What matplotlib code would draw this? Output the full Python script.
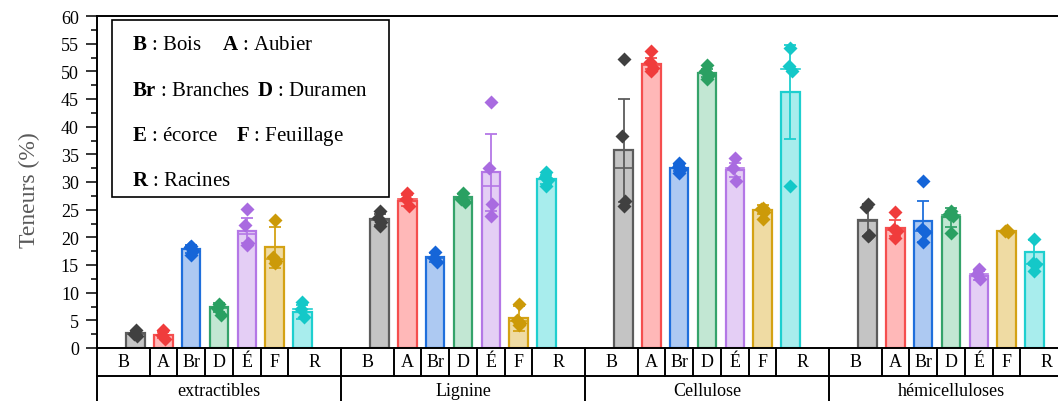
import matplotlib
matplotlib.use('Agg')
import matplotlib.pyplot as plt
import numpy as np
from matplotlib.patches import Rectangle
from matplotlib.ticker import MultipleLocator

plt.rcParams['font.family'] = 'Liberation Serif'
plt.rcParams['mathtext.fontset'] = 'custom'
plt.rcParams['mathtext.rm'] = 'Liberation Serif'
plt.rcParams['mathtext.bf'] = 'Liberation Serif:bold'

groups = ['extractibles', 'Lignine', 'Cellulose', 'hémicelluloses']
parts = ['B', 'A', 'Br', 'D', 'É', 'F', 'R']

# mean, standard deviation and individual measurements (%)
extractibles_mean = [2.65, 2.35, 17.9, 7.35, 21.2, 18.2, 6.5]
extractibles_sd = [0.4, 0.5, 0.7, 0.8, 2.3, 3.7, 1.2]
extractibles_pts = [[3.3, 2.6, 2.2], [3.2, 2.3, 1.7], [18.4, 18.2, 17.5, 16.8],
                    [7.9, 7.3, 6.0], [25.1, 22.2, 19.0, 18.7],
                    [23.1, 16.4, 15.8, 15.3], [8.3, 7.0, 5.6]]

lignine_mean = [23.3, 26.6, 16.4, 27.2, 31.75, 5.35, 30.5]
lignine_sd = [1.0, 1.0, 0.8, 0.7, 7.0, 2.3, 0.8]
lignine_pts = [[24.8, 23.5, 22.8, 22.1], [28.1, 27.0, 25.6], [17.3, 16.2, 15.6],
               [28.1, 27.0, 26.4], [44.5, 32.6, 26.0, 23.9],
               [7.9, 5.0, 4.6, 4.1], [31.8, 30.9, 30.3, 29.3]]

cellulose_mean = [35.7, 51.4, 32.5, 49.7, 32.2, 25.0, 46.2]
cellulose_sd = [9.3, 1.0, 0.6, 0.8, 1.3, 0.8, 8.5]
cellulose_pts = [[52.2, 38.4, 26.6, 25.7], [53.7, 51.6, 50.6, 50.0],
                 [33.5, 32.8, 32.3, 31.6], [51.2, 50.0, 49.4, 48.7],
                 [34.3, 32.5, 30.2], [25.3, 25.2, 24.5, 23.4],
                 [54.3, 51.0, 50.0, 29.3]]

hemi_mean = [23.1, 21.7, 22.9, 23.6, 13.1, 21.2, 17.3]
hemi_sd = [2.9, 1.5, 3.7, 1.7, 0.8, 0.2, 2.3]
hemi_pts = [[26.1, 25.5, 20.5, 20.3], [24.6, 21.5, 21.2, 19.8],
            [30.1, 21.5, 20.9, 19.1], [24.8, 24.2, 23.9, 20.7],
            [14.2, 13.3, 12.5], [21.3, 21.1, 21.0], [19.7, 15.4, 15.1, 13.9]]

means = [extractibles_mean, lignine_mean, cellulose_mean, hemi_mean]
sds = [extractibles_sd, lignine_sd, cellulose_sd, hemi_sd]
points = [extractibles_pts, lignine_pts, cellulose_pts, hemi_pts]

fill_colors = ['#c4c4c4', '#ffb8b8', '#adc9f2', '#c2e7d3', '#e4cef5', '#efdba3', '#a8eded']
edge_colors = ['#5c5c5c', '#f54e4e', '#1f6fdc', '#34a36a', '#b477e6', '#d4a214', '#1ecfcf']
dot_colors = ['#404040', '#f03c3c', '#1565d8', '#2aa062', '#a96be0', '#cc9a08', '#14c8c8']

step = 8.78      # distance between groups, in bar slots
pad = 1.39       # space before the first bar of a group
bw = 0.66
jitter = [0.0, -0.06, 0.06, 0.0]

fig = plt.figure(figsize=(10.58, 4.02), dpi=100)
ax = fig.add_axes([97 / 1058, 53 / 402, 976 / 1058, 332 / 402])

for g in range(len(groups)):
    for i in range(len(parts)):
        x = g * step + i
        m = means[g][i]
        pts = points[g][i]
        ax.bar(x, m, width=bw, color=fill_colors[i], edgecolor=edge_colors[i],
               linewidth=1.6, zorder=2)
        ax.plot([x - bw / 2, x + bw / 2], [np.median(pts)] * 2,
                color=edge_colors[i], lw=1.2, zorder=3)
        ax.errorbar(x, m, yerr=sds[g][i], color=edge_colors[i], capsize=4.5,
                    elinewidth=1.3, capthick=1.3, zorder=3)
        xs = [x + jitter[k % len(jitter)] for k in range(len(pts))]
        ax.plot(xs, pts, 'D', color=dot_colors[i], ms=7, mec='none', zorder=4)

x0 = -pad
x1 = 3 * step + 6 + pad
ax.set_xlim(x0, x1)
ax.set_ylim(0, 60)
ax.yaxis.set_major_locator(MultipleLocator(5))
ax.yaxis.set_minor_locator(MultipleLocator(2.5))
ax.tick_params(axis='y', which='major', direction='out', length=8, width=1.1,
               labelsize=13, pad=5)
ax.tick_params(axis='y', which='minor', direction='out', length=4, width=1.1)
ax.set_xticks([])
for s in ax.spines.values():
    s.set_linewidth(1.4)

ax.set_ylabel('Teneurs (%)', fontsize=17, color='#5a5a5a')
ax.yaxis.label.set_va('center')
ax.yaxis.set_label_coords(-0.069, 0.48)

# category table under the axis
tr = ax.get_xaxis_transform()
row1 = -0.0843
row2 = -0.178
kw = dict(color='black', lw=1.4, transform=tr, clip_on=False)
ax.plot([x0, x1], [row1, row1], **kw)
ax.plot([x0, x1], [row2, row2], **kw)
for g in range(len(groups) + 1):
    gx = g * step - pad
    ax.plot([gx, gx], [0, row2], **kw)
for g in range(len(groups)):
    start = g * step - pad
    end = start + step
    edges = [start] + [g * step + i + 0.5 for i in range(len(parts) - 1)] + [end]
    for e in edges[1:-1]:
        ax.plot([e, e], [0, row1], **kw)
    for i, p in enumerate(parts):
        ax.text((edges[i] + edges[i + 1]) / 2, row1 / 2, p, transform=tr,
                ha='center', va='center', fontsize=13)
    ax.text((start + end) / 2, -0.128, groups[g], transform=tr,
            ha='center', va='center', fontsize=13)

# abbreviation key
ax.add_patch(Rectangle((0.0154, 0.4548), 0.2838, 0.5331, transform=ax.transAxes,
                       fill=False, edgecolor='black', lw=1.2, zorder=5))
key_rows = [
    [(131.7, r'$\mathbf{B}$ : Bois'), (221.7, r'$\mathbf{A}$ : Aubier')],
    [(131.7, r'$\mathbf{Br}$ : Branches'), (256.7, r'$\mathbf{D}$ : Duramen')],
    [(131.7, r'$\mathbf{E}$ : écorce'), (236.0, r'$\mathbf{F}$ : Feuillage')],
    [(131.7, r'$\mathbf{R}$ : Racines')],
]
key_y = [45, 91.5, 136.5, 182]
for yy, row in zip(key_y, key_rows):
    for xx, txt in row:
        fig.text(xx / 1058, 1 - yy / 402, txt, ha='left', va='center',
                 fontsize=15, zorder=6)

plt.savefig('out.png', dpi=100)
